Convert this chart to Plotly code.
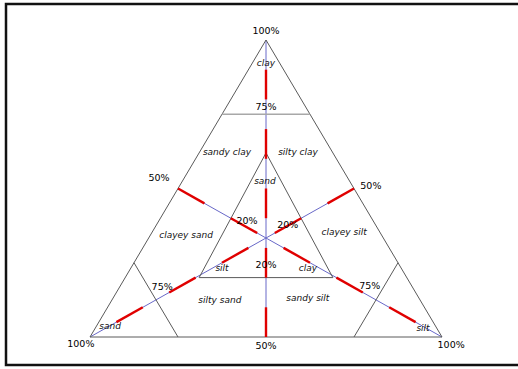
import plotly.graph_objects as go

# compositions are (sand, silt, clay) in percent
outer = [(100, 0, 0), (0, 100, 0), (0, 0, 100), (100, 0, 0)]
clay_75 = [(25, 0, 75), (0, 25, 75)]
sand_75 = [(75, 0, 25), (75, 25, 0)]
silt_75 = [(0, 75, 25), (25, 75, 0)]
inner = [(19, 19, 62), (59, 21, 20), (21, 59, 20), (19, 19, 62)]

# red marks along each median, as % of that component
red_from = [0, 20, 40, 60, 80]
red_to = [10, 30, 50, 70, 90]

class_names = ["clay", "sandy clay", "silty clay", "sand", "clayey sand", "clayey silt",
               "silt", "clay", "silty sand", "sandy silt", "sand", "silt"]
pct_labels = ["100%", "75%", "50%", "50%", "20%", "20%", "20%",
              "75%", "75%", "100%", "50%", "100%"]


def xy(p):
    sand, silt, clay = p
    t = sand + silt + clay
    return (silt + clay / 2) / t, clay / t


def path(points):
    xs, ys = [], []
    for p in points:
        x, y = xy(p)
        xs.append(x)
        ys.append(y)
    return xs, ys


def comp(k, f):
    # point on the median of component k where that component is f %
    p = [(100 - f) / 2] * 3
    p[k] = f
    return tuple(p)


fig = go.Figure()


def add_line(points, color, width):
    xs, ys = path(points)
    fig.add_trace(go.Scatter(x=xs, y=ys, mode="lines", line=dict(color=color, width=width),
                             hoverinfo="skip", showlegend=False))


# medians (blue)
mx, my = [], []
for k in range(3):
    xs, ys = path([comp(k, 0), comp(k, 100)])
    mx += xs + [None]
    my += ys + [None]
fig.add_trace(go.Scatter(x=mx, y=my, mode="lines", line=dict(color="#6868c8", width=1),
                         hoverinfo="skip", showlegend=False))

add_line(outer, "#5a5a5a", 1)
add_line(clay_75, "#a8a8a8", 1.6)
add_line(sand_75, "#5a5a5a", 1)
add_line(silt_75, "#5a5a5a", 1)
add_line(inner, "#5a5a5a", 1)

# red segments
rx, ry = [], []
for k in range(3):
    for a, b in zip(red_from, red_to):
        xs, ys = path([comp(k, a), comp(k, b)])
        rx += xs + [None]
        ry += ys + [None]
fig.add_trace(go.Scatter(x=rx, y=ry, mode="lines", line=dict(color="#e00000", width=2.4),
                         hoverinfo="skip", showlegend=False))

# label positions (x, y in diagram units)
class_pos = [(0.50, 0.919), (0.389, 0.619), (0.591, 0.619), (0.497, 0.522),
             (0.273, 0.340), (0.722, 0.350), (0.375, 0.229), (0.619, 0.229),
             (0.369, 0.122), (0.619, 0.128), (0.057, 0.034), (0.946, 0.027)]
pct_pos = [(0.50, 1.027), (0.50, 0.771), (0.196, 0.532), (0.798, 0.505),
           (0.446, 0.388), (0.562, 0.374), (0.50, 0.239),
           (0.205, 0.165), (0.795, 0.168), (-0.026, -0.024), (0.50, -0.034), (1.026, -0.030)]

fig.add_trace(go.Scatter(
    x=[p[0] for p in class_pos], y=[p[1] for p in class_pos], text=class_names,
    mode="text", textfont=dict(family="DejaVu Sans", size=9, color="#111", style="italic"),
    hoverinfo="skip", showlegend=False))
fig.add_trace(go.Scatter(
    x=[p[0] for p in pct_pos], y=[p[1] for p in pct_pos], text=pct_labels,
    mode="text", textfont=dict(family="DejaVu Sans", size=9.5, color="#000"),
    hoverinfo="skip", showlegend=False))

# frame: left, top and bottom only (right edge is cut off in the original)
fx0, fy0, fy1 = 6 / 518, 1 - 365 / 369, 1 - 4 / 369
fig.add_shape(type="path", xref="paper", yref="paper",
              path=f"M 1.1,{fy1} L {fx0},{fy1} L {fx0},{fy0} L 1.1,{fy0}",
              line=dict(color="#111", width=2.5))

fig.update_layout(
    width=518, height=369,
    margin=dict(l=0, r=0, t=0, b=0),
    paper_bgcolor="white", plot_bgcolor="white",
    xaxis=dict(range=[-90 / 352, 428 / 352], visible=False, fixedrange=True),
    yaxis=dict(range=[-32 / 297, 337 / 297], visible=False, fixedrange=True),
)

fig.write_html("out.html", config=dict(displayModeBar=False),
               post_script="document.body.style.margin='0';")
